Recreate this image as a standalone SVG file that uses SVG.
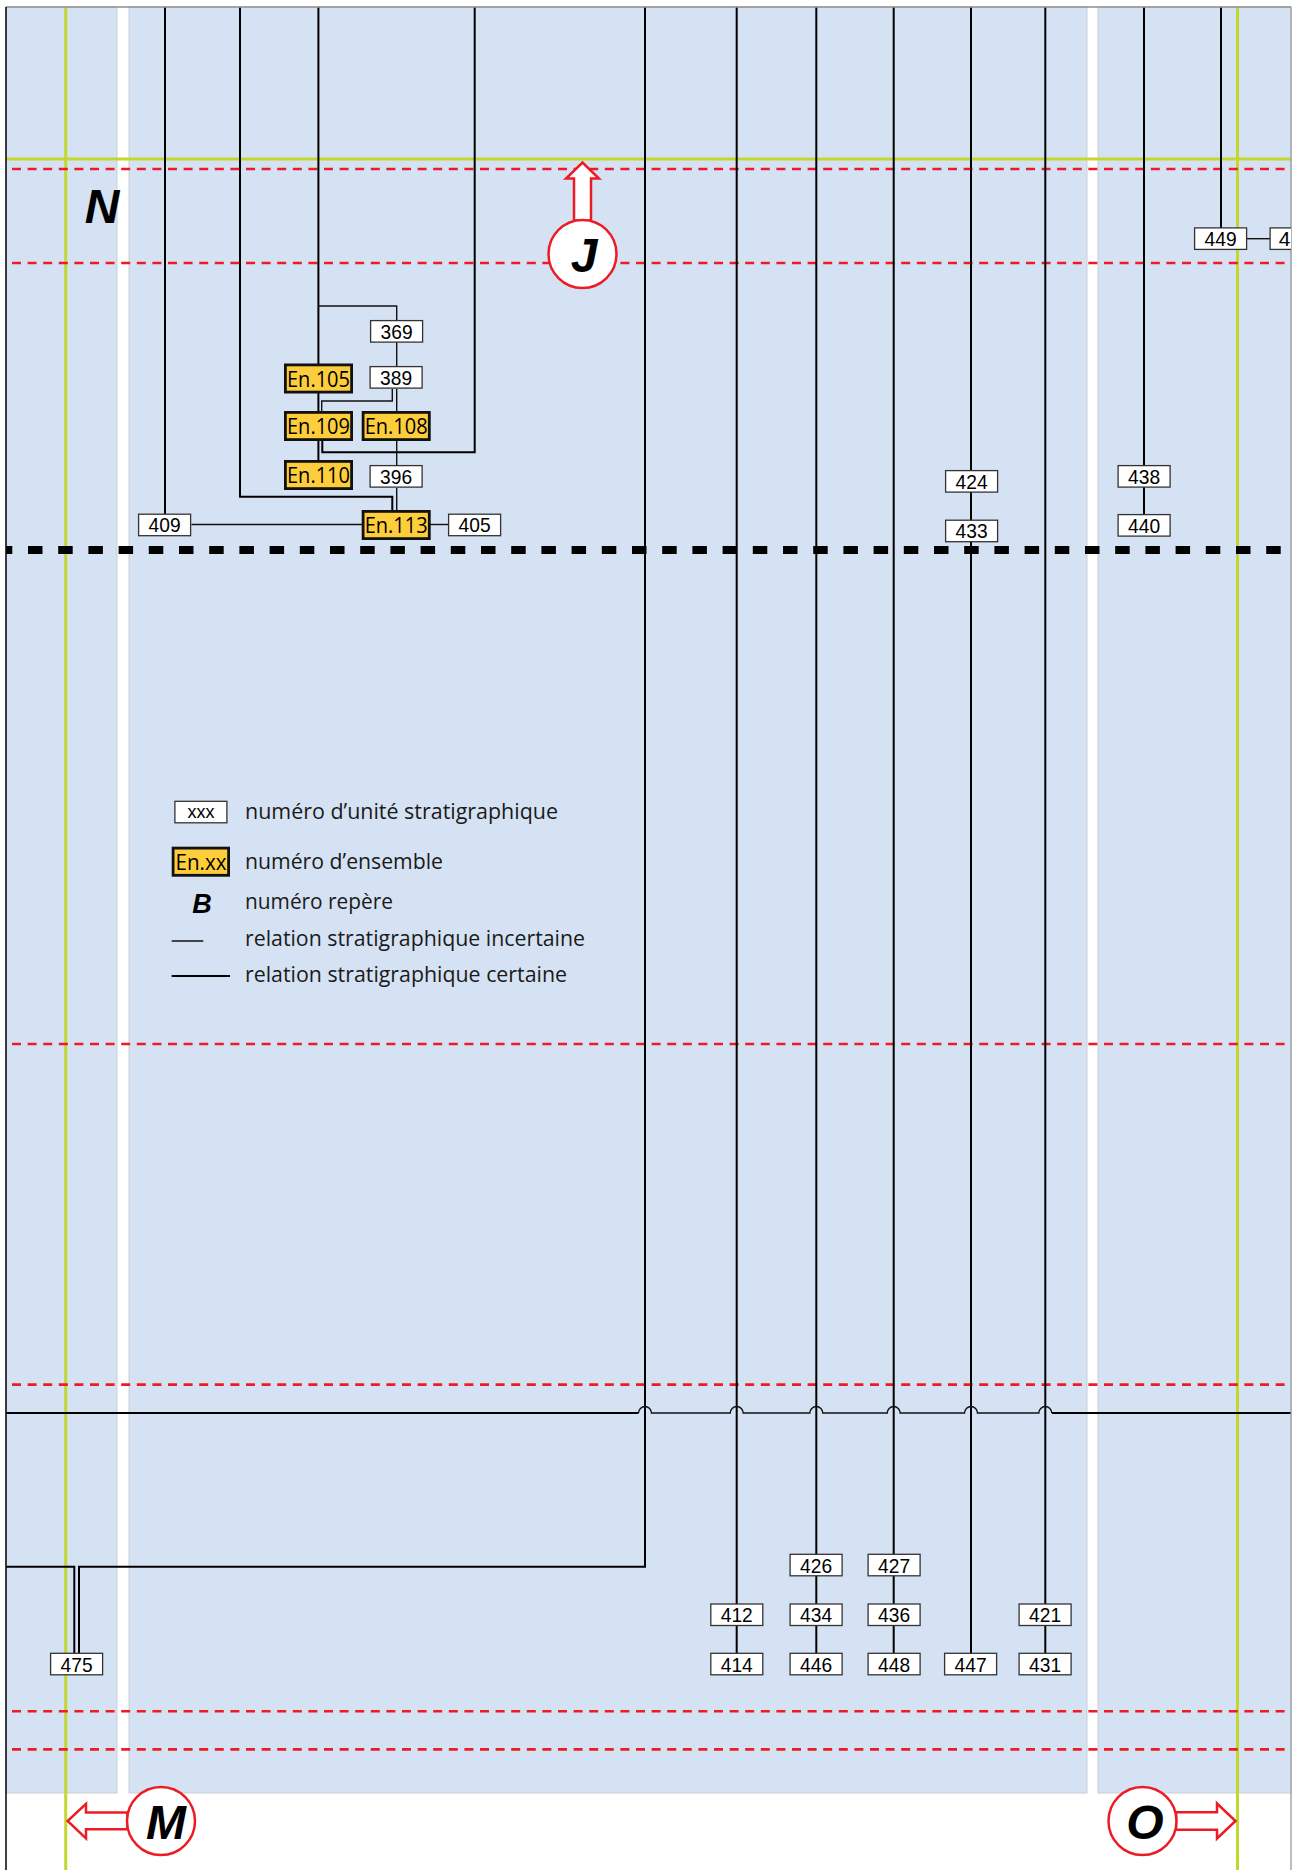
<svg xmlns="http://www.w3.org/2000/svg" width="1297" height="1870" viewBox="0 0 1297 1870">
<style>
.panel{fill:#d5e2f3;stroke:#c9ced6;stroke-width:1}
.green{stroke:#c3d82e;stroke-width:3;fill:none}
.reddash{stroke:#ed1c24;stroke-width:2.6;stroke-dasharray:9 6.6;fill:none}
.blkdash{stroke:#000;stroke-width:8;stroke-dasharray:14.5 15.7;fill:none}
.ln{stroke:#000;stroke-width:2;fill:none}
.lt{stroke:#111;stroke-width:1.4;fill:none}
.us rect{fill:#fff;stroke:#333;stroke-width:1.3}
.us text{font-family:"Liberation Sans",Arial,sans-serif;font-size:21px;fill:#000;text-anchor:middle}
.en rect{fill:#fecd3c;stroke:#111;stroke-width:2.8}
.en text{font-family:"Open Sans","Noto Sans",sans-serif;font-size:22.5px;fill:#000;text-anchor:middle}
.rep{font-family:"Liberation Sans",Arial,sans-serif;font-weight:bold;font-style:italic;font-size:48px;fill:#000;text-anchor:middle}
.mk circle{fill:#fff;stroke:#ed1c24;stroke-width:2.5}
.mk path{fill:#fff;stroke:#ed1c24;stroke-width:2.5;stroke-linejoin:miter}
.lg{font-family:"Open Sans","Noto Sans",sans-serif;font-size:21.5px;fill:#1a1a1a}
</style>
<defs>
<clipPath id="frame"><rect x="6" y="7" width="1285" height="1863"/></clipPath>
</defs>
<rect x="0" y="0" width="1297" height="1870" fill="#fff"/>
<g id="background">
<rect class="panel" x="6" y="7" width="111" height="1786"/>
<rect class="panel" x="129" y="7" width="958" height="1786"/>
<rect class="panel" x="1098" y="7" width="193" height="1786"/>
</g>
<g id="grid" clip-path="url(#frame)">
<line class="green" x1="65.7" y1="7" x2="65.7" y2="1870"/>
<line class="green" x1="1237.5" y1="7" x2="1237.5" y2="1870"/>
<line class="green" x1="6" y1="159" x2="1291" y2="159"/>
<line class="reddash" x1="12" y1="169" x2="1287" y2="169"/>
<line class="reddash" x1="12" y1="263" x2="1287" y2="263"/>
<line class="reddash" x1="12" y1="1044" x2="1287" y2="1044"/>
<line class="reddash" x1="12" y1="1384.6" x2="1287" y2="1384.6"/>
<line class="reddash" x1="12" y1="1711.3" x2="1287" y2="1711.3"/>
<line class="reddash" x1="12" y1="1749.4" x2="1287" y2="1749.4"/>
</g>
<g id="connectors" clip-path="url(#frame)">
<path class="ln" d="M165 7 V514"/>
<path class="ln" d="M240 7 V496.7 H392.3 V510"/>
<path class="ln" d="M318.4 7 V364"/>
<path class="lt" d="M318.4 306 H396.7 V320"/>
<path class="ln" d="M474.7 7 V452.3 H322.3 V441"/>
<path class="lt" d="M396.7 342 V366"/>
<path class="lt" d="M396.7 389 V411"/>
<path class="lt" d="M392.3 389 V401 H321.7 V411"/>
<path class="ln" d="M318.4 393 V411"/>
<path class="ln" d="M318.4 441 V460"/>
<path class="lt" d="M396.7 441 V465"/>
<path class="lt" d="M396.7 488 V510"/>
<path class="lt" d="M191.5 524.5 H362"/>
<path class="lt" d="M430 524.5 H448"/>
<path class="ln" d="M645 7 V1566.7 H79 V1653"/>
<path class="ln" d="M6 1566.7 H74.3 V1653"/>
<path class="ln" d="M736.7 7 V1653"/>
<path class="ln" d="M816.3 7 V1653"/>
<path class="ln" d="M893.7 7 V1653"/>
<path class="ln" d="M971 7 V1653"/>
<path class="ln" d="M1045.3 7 V1653"/>
<path class="ln" d="M1144 7 V514"/>
<path class="ln" d="M1221 7 V228"/>
<path class="lt" d="M1247 238.7 H1270"/>
<path class="ln" d="M6 1413 H638.5"/>
<path class="lt" d="M638.5 1413 A6.5 6.5 0 0 1 651.5 1413 H730.2 A6.5 6.5 0 0 1 743.2 1413 H809.8 A6.5 6.5 0 0 1 822.8 1413 H887.2 A6.5 6.5 0 0 1 900.2 1413 H964.5 A6.5 6.5 0 0 1 977.5 1413 H1038.8 A6.5 6.5 0 0 1 1051.8 1413"/>
<path class="ln" d="M1051.8 1413 H1291"/>
<line class="blkdash" x1="-2.2" y1="550" x2="1291" y2="550"/>
</g>
<g id="frame-lines">
<line x1="6" y1="7" x2="1291" y2="7" stroke="#8f8f8f" stroke-width="1.3"/>
<line x1="6" y1="7" x2="6" y2="1870" stroke="#111" stroke-width="1.6"/>
<line x1="1291" y1="7" x2="1291" y2="1870" stroke="#9a9a9a" stroke-width="1.3"/>
</g>
<g id="nodes">
<g id="n369" class="us"><rect x="370.6" y="320.6" width="52" height="21.5"/><text x="396.6" y="338.8" textLength="32" lengthAdjust="spacingAndGlyphs">369</text></g>
<g id="n389" class="us"><rect x="370.1" y="366.6" width="52" height="21.5"/><text x="396.1" y="384.8" textLength="32" lengthAdjust="spacingAndGlyphs">389</text></g>
<g id="n396" class="us"><rect x="370.1" y="465.6" width="52" height="21.5"/><text x="396.1" y="483.8" textLength="32" lengthAdjust="spacingAndGlyphs">396</text></g>
<g id="n409" class="us"><rect x="138.6" y="514.2" width="52" height="21.5"/><text x="164.6" y="532.4" textLength="32" lengthAdjust="spacingAndGlyphs">409</text></g>
<g id="n405" class="us"><rect x="448.6" y="514.2" width="52" height="21.5"/><text x="474.6" y="532.4" textLength="32" lengthAdjust="spacingAndGlyphs">405</text></g>
<g id="en105" class="en"><rect x="285.4" y="364.9" width="66.2" height="27.2"/><text x="318.5" y="386.6" textLength="63" lengthAdjust="spacingAndGlyphs">En.105</text></g>
<g id="en109" class="en"><rect x="285.4" y="412.4" width="66.2" height="27.2"/><text x="318.5" y="434.1" textLength="63" lengthAdjust="spacingAndGlyphs">En.109</text></g>
<g id="en110" class="en"><rect x="285.4" y="461.4" width="66.2" height="27.2"/><text x="318.5" y="483.1" textLength="63" lengthAdjust="spacingAndGlyphs">En.110</text></g>
<g id="en108" class="en"><rect x="363.1" y="412.4" width="66.2" height="27.2"/><text x="396.2" y="434.1" textLength="63" lengthAdjust="spacingAndGlyphs">En.108</text></g>
<g id="en113" class="en"><rect x="363.1" y="511.4" width="66.2" height="27.2"/><text x="396.2" y="533.1" textLength="63" lengthAdjust="spacingAndGlyphs">En.113</text></g>
<g id="n424" class="us"><rect x="945.6" y="470.6" width="52" height="21.5"/><text x="971.6" y="488.8" textLength="32" lengthAdjust="spacingAndGlyphs">424</text></g>
<g id="n433" class="us"><rect x="945.6" y="520.2" width="52" height="21.5"/><text x="971.6" y="538.4" textLength="32" lengthAdjust="spacingAndGlyphs">433</text></g>
<g id="n438" class="us"><rect x="1118.1" y="465.6" width="52" height="21.5"/><text x="1144.1" y="483.8" textLength="32" lengthAdjust="spacingAndGlyphs">438</text></g>
<g id="n440" class="us"><rect x="1118.1" y="514.6" width="52" height="21.5"/><text x="1144.1" y="532.8" textLength="32" lengthAdjust="spacingAndGlyphs">440</text></g>
<g id="n449" class="us"><rect x="1194.6" y="227.9" width="52" height="21.5"/><text x="1220.6" y="246.1" textLength="32" lengthAdjust="spacingAndGlyphs">449</text></g>
<g id="n4xx" class="us" clip-path="url(#frame)"><rect x="1270.1" y="227.9" width="52" height="21.5"/><text x="1284.5" y="246.1">4</text></g>
<g id="n475" class="us"><rect x="50.6" y="1653.3" width="52" height="21.5"/><text x="76.6" y="1671.5" textLength="32" lengthAdjust="spacingAndGlyphs">475</text></g>
<g id="n426" class="us"><rect x="790.1" y="1554.3" width="52" height="21.5"/><text x="816.1" y="1572.5" textLength="32" lengthAdjust="spacingAndGlyphs">426</text></g>
<g id="n427" class="us"><rect x="868.1" y="1554.3" width="52" height="21.5"/><text x="894.1" y="1572.5" textLength="32" lengthAdjust="spacingAndGlyphs">427</text></g>
<g id="n412" class="us"><rect x="710.8" y="1604" width="52" height="21.5"/><text x="736.8" y="1622.2" textLength="32" lengthAdjust="spacingAndGlyphs">412</text></g>
<g id="n434" class="us"><rect x="790.1" y="1604" width="52" height="21.5"/><text x="816.1" y="1622.2" textLength="32" lengthAdjust="spacingAndGlyphs">434</text></g>
<g id="n436" class="us"><rect x="868.1" y="1604" width="52" height="21.5"/><text x="894.1" y="1622.2" textLength="32" lengthAdjust="spacingAndGlyphs">436</text></g>
<g id="n421" class="us"><rect x="1019.1" y="1604" width="52" height="21.5"/><text x="1045.1" y="1622.2" textLength="32" lengthAdjust="spacingAndGlyphs">421</text></g>
<g id="n414" class="us"><rect x="710.8" y="1653.3" width="52" height="21.5"/><text x="736.8" y="1671.5" textLength="32" lengthAdjust="spacingAndGlyphs">414</text></g>
<g id="n446" class="us"><rect x="790.1" y="1653.3" width="52" height="21.5"/><text x="816.1" y="1671.5" textLength="32" lengthAdjust="spacingAndGlyphs">446</text></g>
<g id="n448" class="us"><rect x="868.1" y="1653.3" width="52" height="21.5"/><text x="894.1" y="1671.5" textLength="32" lengthAdjust="spacingAndGlyphs">448</text></g>
<g id="n447" class="us"><rect x="944.6" y="1653.3" width="52" height="21.5"/><text x="970.6" y="1671.5" textLength="32" lengthAdjust="spacingAndGlyphs">447</text></g>
<g id="n431" class="us"><rect x="1019.1" y="1653.3" width="52" height="21.5"/><text x="1045.1" y="1671.5" textLength="32" lengthAdjust="spacingAndGlyphs">431</text></g>
</g>
<g id="label-N"><text class="rep" x="102" y="223">N</text></g>
<g id="marker-J" class="mk">
<path d="M574 220.5 V178.6 H566 L582.5 162.5 L599 178.6 H591 V220.5 Z"/>
<circle cx="582.5" cy="254" r="34"/>
<text class="rep" x="584" y="271.5">J</text>
</g>
<g id="marker-M" class="mk">
<path d="M127.5 1812.5 H86 V1803.8 L67.6 1821 L86 1838.4 V1829.3 H127.5 Z"/>
<circle cx="161" cy="1821" r="34"/>
<text class="rep" x="166" y="1838.5">M</text>
</g>
<g id="marker-O" class="mk">
<path d="M1176 1812.3 H1217 V1803.5 L1235.5 1821 L1217 1838.5 V1829.7 H1176 Z"/>
<circle cx="1142.5" cy="1821" r="34"/>
<text class="rep" x="1145" y="1838.5">O</text>
</g>
<g id="legend">
<g class="us"><rect x="174.9" y="801.3" width="52" height="21.5"/><text x="201" y="817.5" style="font-size:18px">xxx</text></g>
<text class="lg" x="245" y="819.3" textLength="313" lengthAdjust="spacingAndGlyphs">numéro d’unité stratigraphique</text>
<g class="en"><rect x="173.1" y="848.1" width="55.5" height="27.2"/><text x="201" y="869.6" textLength="51" lengthAdjust="spacingAndGlyphs">En.xx</text></g>
<text class="lg" x="245" y="869.3" textLength="198" lengthAdjust="spacingAndGlyphs">numéro d’ensemble</text>
<text class="rep" x="202" y="913.3" style="font-size:27px">B</text>
<text class="lg" x="245" y="909.3" textLength="148" lengthAdjust="spacingAndGlyphs">numéro repère</text>
<line x1="171.7" y1="941" x2="203.3" y2="941" stroke="#111" stroke-width="1.3"/>
<text class="lg" x="245" y="945.7" textLength="340" lengthAdjust="spacingAndGlyphs">relation stratigraphique incertaine</text>
<line x1="171.7" y1="976" x2="230" y2="976" stroke="#000" stroke-width="1.8"/>
<text class="lg" x="245" y="982.3" textLength="322" lengthAdjust="spacingAndGlyphs">relation stratigraphique certaine</text>
</g>
</svg>
